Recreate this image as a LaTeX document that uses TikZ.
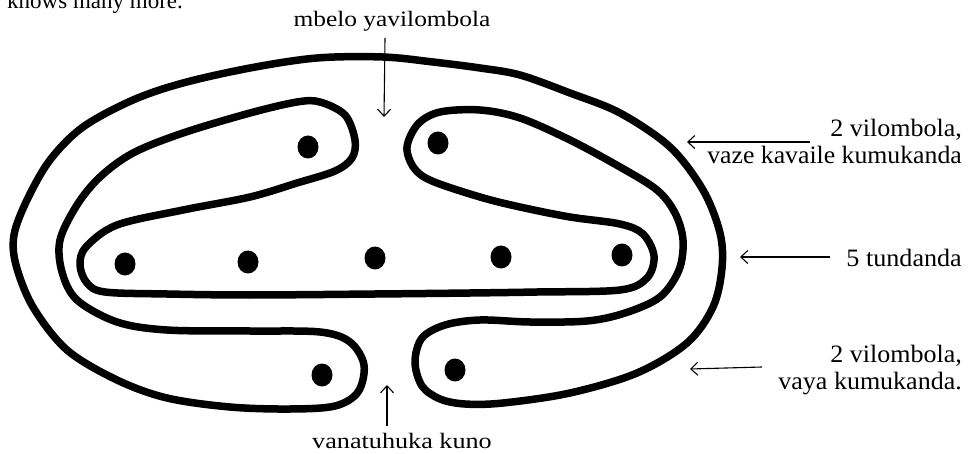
\documentclass[tikz,border=0pt]{standalone}
\usepackage{fontspec}
\usepackage{graphicx}
\setmainfont{Liberation Serif}
\usetikzlibrary{arrows.meta,shapes.geometric}
\begin{document}
\begin{tikzpicture}[x=1pt,y=-1pt,
  sona/.style={line width=7.5pt, line join=round, line cap=round},
  dot/.style={ellipse, fill=black, inner sep=0pt, minimum width=21pt, minimum height=23pt},
  lbl/.style={inner sep=0pt, font=\fontsize{25}{29}\selectfont},
  lbs/.style={inner sep=0pt, font=\fontsize{22}{26}\selectfont},
  ptr/.style={line width=1.1pt, -{Straight Barb[length=7pt,width=13pt]}}
]
\useasboundingbox (0,0) rectangle (974,454);
\fill[white] (0,0) rectangle (974,454);

% the single closed sona line
\draw[sona] plot[smooth cycle, tension=0.55] coordinates {
 (167,330) (250,331) (320,332) (350,342) (364,365) (358,392) (335,406)
 (290,409) (230,407) (167,398) (117,380) (67,350) (33,307) (16,265)
 (14,235) (27,200) (50,160) (83,127) (133,100) (183,83) (250,68)
 (317,58) (383,57) (433,62) (480,68) (520,75) (570,93) (620,113)
 (670,147) (703,190) (720,233) (722,268) (713,307) (687,343) (637,373)
 (570,393) (503,403) (465,404) (440,399) (422,386) (415,362) (422,338)
 (445,325) (480,320) (530,322) (587,321) (625,313) (660,297) (679,270)
 (683,240) (675,213) (657,190) (620,167) (570,140) (520,118) (480,110)
 (440,112) (418,124) (407,147) (414,168) (432,181) (480,197) (520,207)
 (570,217) (620,224) (643,234) (654,256) (647,278) (620,290) (537,292)
 (470,293) (375,294) (250,295) (167,294) (105,292) (87,283) (80,265)
 (86,247) (117,225) (183,210) (250,197) (297,183) (335,171) (352,158)
 (355,140) (345,115) (320,102) (297,102) (250,113) (183,133) (133,153)
 (100,177) (77,205) (60,240) (62,272) (77,300) (117,322)
};

% dots
\node[dot] (b1) at (125,264) {};
\node[dot] (b2) at (248,262) {};
\node[dot] (b3) at (375,258) {};
\node[dot] (b4) at (501,257) {};
\node[dot] (b5) at (622,255) {};
\node[dot] (ul) at (308,147) {};
\node[dot] (ur) at (438,143) {};
\node[dot] (ll) at (322,375) {};
\node[dot] (lr) at (455,370) {};

% texts
\node[lbs, font=\fontsize{23}{27}\selectfont, anchor=base west] (knows) at (7,9) {knows many more.};
\node[lbs, anchor=base] (ttop) at (392,27) {\scalebox{1.155}[1]{mbelo yavilombola}};
\node[lbs, anchor=base] (tbot) at (402,448) {\scalebox{1.19}[1]{vanatuhuka kuno}};
\node[lbl, anchor=base east] (r1a) at (962,137) {\scalebox{1.04}[1]{2 vilombola,}};
\node[lbl, anchor=base east] (r1b) at (962,164) {\scalebox{1.03}[1]{vaze kavaile kumukanda}};
\node[lbl, anchor=base east] (r2) at (962,266) {\scalebox{1.045}[1]{5 tundanda}};
\node[lbl, anchor=base east] (r3a) at (962,362) {\scalebox{1.04}[1]{2 vilombola,}};
\node[lbl, anchor=base east] (r3b) at (962,389) {\scalebox{1.04}[1]{vaya kumukanda.}};

% pointers
\coordinate (p1s) at (385,38);  \coordinate (p1e) at (384,117);
\coordinate (p2s) at (387,426); \coordinate (p2e) at (387,385);
\coordinate (p3s) at (810,142); \coordinate (p3e) at (687,142);
\coordinate (p4s) at (830,257); \coordinate (p4e) at (740,257);
\coordinate (p5s) at (762,367); \coordinate (p5e) at (690,369);
\draw[ptr] (p1s) -- (p1e);
\draw[ptr] (p2s) -- (p2e);
\draw[ptr] (p3s) -- (p3e);
\draw[ptr] (p4s) -- (p4e);
\draw[ptr] (p5s) -- (p5e);
\end{tikzpicture}
\end{document}
